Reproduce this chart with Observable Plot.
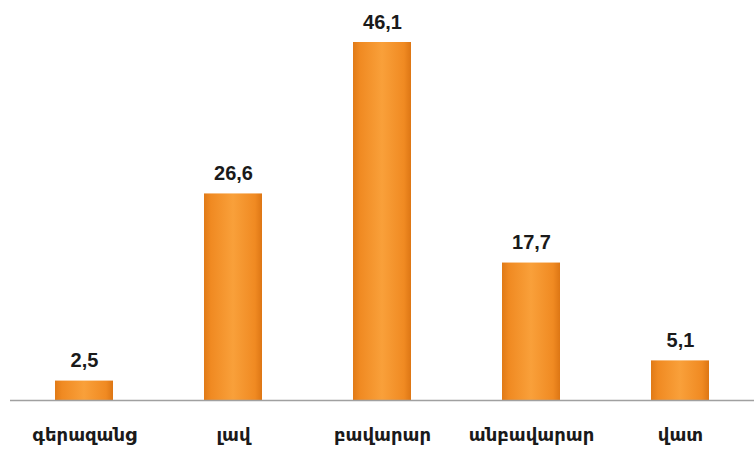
<!DOCTYPE html>
<html>
<head>
<meta charset="utf-8">
<script src="https://cdn.jsdelivr.net/npm/d3@7"></script>
<script src="https://cdn.jsdelivr.net/npm/@observablehq/plot@0.6"></script>
<style>
  html, body { margin: 0; padding: 0; background: #fff; }
  #chart { width: 754px; height: 453px; }
</style>
</head>
<body>
<div id="chart"></div>
<script>
const categories = ["գերազանց", "լավ", "բավարար", "անբավարար", "վատ"];
const values = [2.5, 26.6, 46.1, 17.7, 5.1];
const valueLabels = ["2,5", "26,6", "46,1", "17,7", "5,1"];

const data = categories.map((c, i) => ({ category: c, value: values[i], label: valueLabels[i] }));

const plot = Plot.plot({
  width: 754,
  height: 453,
  marginTop: 42,
  marginBottom: 53,
  marginLeft: 10,
  marginRight: 0,
  style: { fontFamily: "'Liberation Sans', 'DejaVu Sans', Arial, sans-serif", background: "#fff" },
  x: { domain: categories, paddingInner: 0.61, paddingOuter: 0.3, label: null },
  y: { domain: [0, d3.max(values)], axis: null },
  marks: [
    Plot.barY(data, { x: "category", y: "value", fill: "url(#barGrad)" }),
    Plot.tickY(data, { x: "category", y: "value", stroke: "url(#capGrad)", strokeWidth: 5, dy: 2.5 }),
    Plot.ruleY([0], { stroke: "#a0a0a0", strokeWidth: 1.5 }),
    Plot.text(data, { x: "category", y: "value", text: "label", dy: -20, fontSize: 20, fontWeight: "bold", fill: "#1a1a1a" }),
    Plot.axisX({ tickSize: 0, tickPadding: 28, fontSize: 18, fontWeight: "bold", fill: "#1a1a1a", label: null, fontFamily: "'DejaVu Sans', sans-serif" })
  ]
});

const ns = "http://www.w3.org/2000/svg";
const defs = document.createElementNS(ns, "defs");
defs.innerHTML = `
  <linearGradient id="barGrad" x1="0" y1="0" x2="1" y2="0">
    <stop offset="0" stop-color="#e07a17"/>
    <stop offset="0.12" stop-color="#f08a22"/>
    <stop offset="0.5" stop-color="#f9a03a"/>
    <stop offset="0.88" stop-color="#f08a22"/>
    <stop offset="1" stop-color="#dd7614"/>
  </linearGradient>
  <linearGradient id="capGrad" x1="0" y1="0" x2="1" y2="0">
    <stop offset="0" stop-color="#f2b23e"/>
    <stop offset="0.5" stop-color="#ffe07a"/>
    <stop offset="1" stop-color="#f2b23e"/>
  </linearGradient>`;
plot.insertBefore(defs, plot.firstChild);
document.getElementById("chart").appendChild(plot);
</script>
</body>
</html>
